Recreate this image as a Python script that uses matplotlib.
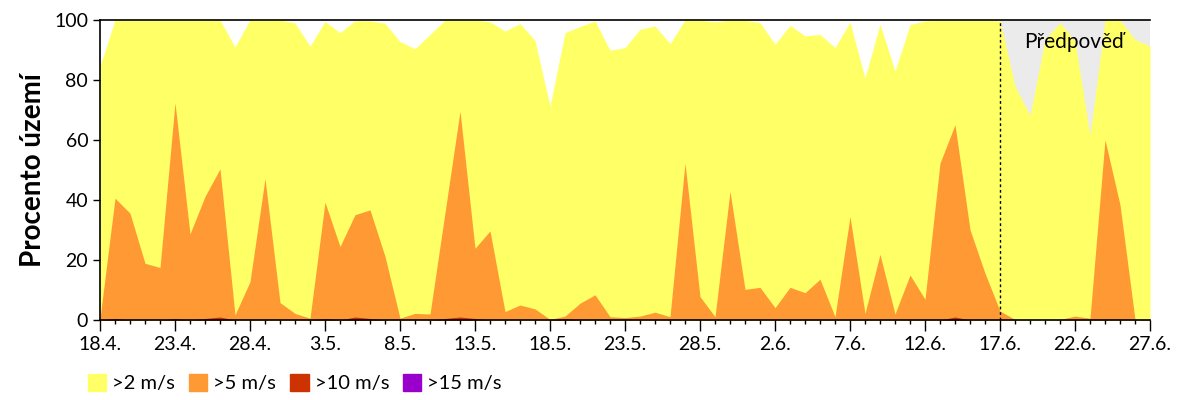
import numpy as np
import matplotlib
matplotlib.use('Agg')
import matplotlib.pyplot as plt
from matplotlib.patches import Patch

plt.rcParams['font.family'] = ['Lato', 'DejaVu Sans']

# daily values, 18.4. .. 27.6. (71 days), percent of area with wind above threshold
over2 = [84.6, 100, 100, 100, 100, 100, 100, 100, 100, 91.0,
         100, 100, 100, 99.0, 91.3, 99.5, 95.8, 99.7, 99.7, 98.9,
         92.8, 90.4, 95.2, 100, 100, 100, 99.4, 96.3, 98.8, 93.2,
         71.3, 95.8, 97.8, 99.7, 89.9, 90.8, 96.9, 98.0, 92.1, 100,
         99.9, 99.4, 99.9, 99.9, 99.1, 91.9, 98.2, 94.7, 95.2, 90.8,
         99.3, 80.7, 98.6, 83.0, 98.5, 99.7, 99.9, 99.9, 99.9, 99.9,
         99.7, 78.0, 68.2, 93.5, 99.1, 93.0, 61.5, 100, 100, 93.5,
         91.3]
over5 = [0.5, 40.6, 35.6, 18.9, 17.5, 72.4, 28.7, 41.2, 50.4, 1.7,
         12.8, 47.1, 5.8, 2.2, 0.6, 39.3, 24.5, 35.1, 36.7, 21.2,
         0.6, 2.2, 2.0, 35.8, 69.6, 23.9, 29.7, 2.8, 5.0, 3.7,
         0.2, 1.3, 5.6, 8.4, 1.1, 0.8, 1.3, 2.6, 1.1, 52.3,
         7.8, 1.1, 42.9, 10.2, 10.9, 4.1, 10.9, 9.1, 13.6, 1.1,
         34.5, 2.2, 21.9, 2.0, 15.0, 6.9, 52.3, 65.1, 30.1, 15.6,
         3.0, 0.2, 0.0, 0.0, 0.2, 1.3, 0.6, 60.1, 38.4, 0.2,
         0.2]
over10 = np.zeros(71)
for d, v in [(1, 0.5), (5, 0.5), (7, 0.5), (8, 1.0), (15, 0.5), (17, 1.0),
             (18, 0.5), (23, 0.5), (24, 1.0), (25, 0.5), (31, 0.5), (57, 1.0)]:
    over10[d] = v
over15 = np.zeros(71)
over15[70] = 0.1

days = np.arange(71)
tick_days = np.arange(0, 71, 5)
tick_labels = ['18.4.', '23.4.', '28.4.', '3.5.', '8.5.', '13.5.', '18.5.', '23.5.',
               '28.5.', '2.6.', '7.6.', '12.6.', '17.6.', '22.6.', '27.6.']
forecast_start = 60

series = [(over2, '#FFFF66', '>2 m/s'), (over5, '#FF9933', '>5 m/s'),
          (over10, '#CC3300', '>10 m/s'), (over15, '#9900CC', '>15 m/s')]

fig = plt.figure(figsize=(12, 4), dpi=100)
ax = fig.add_axes([100/1200, 80/400, 1050/1200, 300/400])

ax.axvspan(forecast_start, 70, color='#EBEBEB', lw=0, zorder=0)
for vals, col, lab in series:
    ax.fill_between(days, 0, vals, color=col, lw=0, zorder=1)
ax.axvline(forecast_start, color='black', ls=(0, (2, 2)), lw=1, zorder=3)
ax.text(64.9, 92.5, 'Předpověď', ha='center', va='center', fontsize=15, zorder=4)

ax.set_xlim(0, 70)
ax.set_ylim(0, 100)
ax.set_xticks(tick_days)
ax.set_xticklabels(tick_labels, fontsize=14)
ax.set_xticks(days, minor=True)
ax.set_yticks(range(0, 101, 20))
ax.tick_params(axis='y', labelsize=14, length=5, width=1)
ax.tick_params(axis='x', which='major', length=8, width=1)
ax.tick_params(axis='x', which='minor', length=3, width=1)
ax.spines['right'].set_visible(False)
for s in ['left', 'bottom', 'top']:
    ax.spines[s].set_linewidth(1.2)
ax.set_ylabel('Procento území', fontsize=20, fontweight='bold', labelpad=6)

handles = [Patch(color=c, label=l) for v, c, l in series]
fig.legend(handles=handles, loc='center left', bbox_to_anchor=(70/1200, 17/400),
           ncol=4, frameon=False, fontsize=14.5, handlelength=0.9, handleheight=0.9,
           columnspacing=0.7, handletextpad=0.3)

fig.savefig('out.png', dpi=100)
